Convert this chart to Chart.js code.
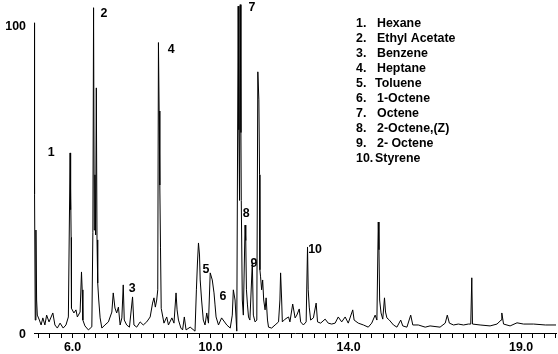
<!DOCTYPE html>
<html>
<head>
<meta charset="utf-8">
<script src="https://cdn.jsdelivr.net/npm/chart.js@4.4.1/dist/chart.umd.min.js"></script>
<style>
  html, body { margin: 0; padding: 0; background: #fff; }
  canvas { display: block; }
</style>
</head>
<body>
<canvas id="tic" width="558" height="354"></canvas>
<script>
// retention time (min) / relative abundance (%)
const rtMin = [
  4.884, 4.89, 4.90, 4.91, 4.92, 4.94, 4.96, 4.98, 5.04, 5.09, 5.14, 5.20, 5.25, 5.32, 5.43, 5.49, 5.56, 5.64, 5.73, 5.81, 5.88,
  5.93, 5.94, 5.95, 5.96, 5.97, 6.04, 6.10, 6.14, 6.22, 6.26, 6.28, 6.30, 6.36, 6.46, 6.56,
  6.59, 6.61, 6.63, 6.65, 6.67, 6.69, 6.71, 6.73, 6.76, 6.80, 6.85, 6.94, 7.04, 7.14, 7.18, 7.23, 7.28, 7.33, 7.38, 7.43,
  7.47, 7.50, 7.57, 7.65, 7.74, 7.78, 7.86, 7.96, 8.05, 8.15, 8.25, 8.32, 8.36, 8.40, 8.44, 8.47,
  8.49, 8.51, 8.53, 8.55, 8.57, 8.65, 8.73, 8.78, 8.88, 8.94, 9.00, 9.03, 9.07, 9.14, 9.19, 9.24, 9.29, 9.41, 9.55,
  9.59, 9.62, 9.65, 9.68, 9.70, 9.74, 9.79, 9.84, 9.89, 9.94, 9.99, 10.05, 10.10, 10.13, 10.16, 10.23, 10.32, 10.47, 10.57,
  10.63, 10.66, 10.71, 10.76, 10.80, 10.82, 10.84, 10.86, 10.88, 10.89, 10.92, 10.95, 11.00, 11.02, 11.04, 11.07, 11.10, 11.14,
  11.21, 11.24, 11.29, 11.34, 11.37, 11.40, 11.42, 11.43, 11.45, 11.48, 11.51, 11.54, 11.58, 11.61, 11.65, 11.68, 11.77, 11.87, 11.97,
  12.01, 12.03, 12.06, 12.08, 12.16, 12.26, 12.30, 12.38, 12.45, 12.50, 12.57, 12.61, 12.69, 12.77,
  12.81, 12.83, 12.86, 12.90, 12.98, 13.06, 13.10, 13.19, 13.32, 13.41, 13.51, 13.61, 13.70, 13.80, 13.90, 13.99,
  14.12, 14.16, 14.28, 14.43, 14.57, 14.67, 14.77, 14.82, 14.86, 14.88, 14.90, 14.94, 14.99, 15.04, 15.07, 15.11, 15.18, 15.30, 15.40,
  15.51, 15.57, 15.69, 15.80, 15.86, 16.02, 16.22, 16.36, 16.65, 16.80, 16.86, 16.92, 17.04, 17.18, 17.33, 17.47,
  17.54, 17.57, 17.59, 17.81, 18.10, 18.30, 18.42, 18.44, 18.49, 18.68, 18.88, 19.07, 19.36, 19.70, 20.01
];
const abundance = [
  100.6, 60.4, 80.5, 45, 4.2, 33.4, 10.7, 5.8, 4.2, 2.6, 4.9, 2.6, 5.8, 3.6, 6.5, 2.6, 1.6, 3.2, 1.6, 2.6, 5.2,
  58.4, 40, 47, 31, 8, 6.5, 7.5, 5.2, 6.8, 19.8, 14, 4.2, 2.3, 1.0, 2.0,
  32.5, 105.5, 33.4, 51.3, 31.8, 79.5, 30.2, 16.2, 10.7, 4.9, 1.6, 2.6, 3.6, 6.8, 13, 8.1, 6.5, 8.4, 2.6, 4.9,
  15.6, 4.2, 2.6, 1.9, 11.7, 2.6, 1.9, 3.6, 2.6, 3.6, 5.2, 9.7, 11.4, 8.4, 10.7, 14,
  94.2, 72, 48, 27.6, 8, 3.2, 5.2, 2.6, 4.9, 3.2, 13, 7.5, 4.2, 1.6, 1.0, 5.2, 1.0, 1.9, 0.6,
  14, 22.7, 29.2, 25.3, 17.2, 10.7, 4.2, 2.6, 6.5, 3.2, 19.5, 17.2, 13, 9.1, 5.2, 2.6, 4.9, 2.6, 1.6,
  5.8, 14, 10.7, 0.6, 106, 65.9, 43, 106.5, 65, 43, 10.7, 5.8, 35, 30, 14, 9.1, 5.2, 4.2,
  22.7, 5.8, 3.6, 4.2, 84.7, 75.6, 51.3, 20.5, 18.2, 14, 17.2, 10.7, 7.5, 11.4, 4.2, 1.9, 1.6, 2.6, 3.6,
  10.7, 19.5, 10.7, 3.6, 4.5, 5.2, 3.6, 9.4, 4.9, 5.8, 7.8, 3.6, 2.6, 3.6,
  27.9, 14, 8.4, 4.2, 4.9, 9.7, 3.6, 3.2, 4.5, 3.2, 2.9, 3.2, 5.2, 3.6, 5.2, 3.2,
  7.5, 4.2, 3.2, 2.6, 1.9, 3.2, 5.8, 4.2, 36, 27, 10.7, 6.5, 4.5, 11.4, 6.8, 4.9, 4.2, 2.6, 1.9,
  4.2, 2.3, 1.9, 5.8, 2.6, 2.6, 1.9, 2.3, 1.9, 3.2, 5.8, 3.2, 2.6, 2.9, 2.6, 2.9,
  2.9, 17.9, 2.9, 2.6, 2.3, 2.9, 4.2, 6.5, 2.9, 2.3, 3.3, 2.9, 2.9, 2.6, 2.6
];

// tick labels
const timeLabels = [6, 10, 14, 19];
const yLabels = [0, 100];

// peak numbers and where they are written (time, abundance)
const peakNums = ['1', '2', '3', '4', '5', '6', '7', '8', '9', '10'];
const peakLabelRt = [5.38, 6.91, 7.73, 8.86, 9.87, 10.36, 11.20, 11.03, 11.26, 13.03];
const peakLabelAb = [58.4, 103.6, 14.3, 91.9, 20.5, 11.7, 105.5, 38.6, 22.4, 26.9];

const compounds = ['Hexane', 'Ethyl Acetate', 'Benzene', 'Heptane', 'Toluene',
  '1-Octene', 'Octene', '2-Octene,(Z)', '2- Octene', 'Styrene'];

const FAMILY = '"Liberation Sans", Arial, sans-serif';
const FONT = 'bold 12.4px ' + FAMILY;

const points = rtMin.map((t, i) => ({ x: t, y: abundance[i] }));

// y labels, peak numbers and the compound list
const textPlugin = {
    id: 'peakText',
    afterDraw(chart) {
        const ctx = chart.ctx;
        const xs = chart.scales.x, ys = chart.scales.y;
        ctx.save();
        ctx.font = FONT;
        ctx.fillStyle = '#000';
        ctx.textBaseline = 'middle';

        ctx.textAlign = 'right';
        yLabels.forEach(v => ctx.fillText(String(v), 26, ys.getPixelForValue(v) + 1.5));

        ctx.textAlign = 'center';
        peakNums.forEach((n, i) => {
            ctx.fillText(n, xs.getPixelForValue(peakLabelRt[i]), ys.getPixelForValue(peakLabelAb[i]));
        });

        ctx.textAlign = 'left';
        compounds.forEach((c, i) => {
            const y = 24 + i * 15;
            ctx.fillText((i + 1) + '.', 356, y);
            ctx.fillText(c, (i === 4 || i === 9) ? 375 : 377, y);
        });
        ctx.restore();
    }
};

new Chart(document.getElementById('tic'), {
    type: 'line',
    data: {
        datasets: [{
            data: points,
            borderColor: '#000',
            borderWidth: 1,
            pointRadius: 0,
            tension: 0,
            fill: false,
        }]
    },
    options: {
        responsive: false,
        animation: false,
        devicePixelRatio: 1,
        layout: { padding: { left: 0, right: 2, top: 0, bottom: 0 } },
        plugins: { legend: { display: false }, tooltip: { enabled: false } },
        scales: {
            x: {
                type: 'linear',
                min: 4.884,
                max: 20.01,
                afterBuildTicks: scale => {
                    scale.ticks = [];
                    for (let k = 15; k <= 60; k++) scale.ticks.push({ value: k / 3 });
                },
                afterFit: scale => { scale.height = 21; },
                grid: { drawOnChartArea: false, drawTicks: true, tickLength: 5, color: '#000' },
                border: { display: true, color: '#000', width: 1 },
                ticks: {
                    autoSkip: false,
                    maxRotation: 0,
                    padding: 2,
                    color: '#000',
                    font: { family: FAMILY, size: 12.4, weight: 'bold' },
                    callback: v => timeLabels.some(l => Math.abs(l - v) < 1e-6) ? v.toFixed(1) : ''
                }
            },
            y: {
                min: 0,
                max: 108,
                afterFit: scale => { scale.width = 34; },
                grid: { display: false },
                border: { display: false },
                ticks: { display: false }
            }
        }
    },
    plugins: [textPlugin]
});
</script>
</body>
</html>
